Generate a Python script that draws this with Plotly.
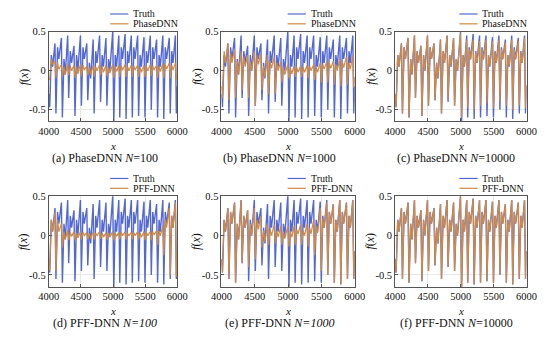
import plotly.graph_objects as go

# page body has an 8px default margin: the figure is drawn 8px in from the top-left
OFF = 8
W, H = 550 - OFF, 337 - OFF

# ---------------- data ----------------
x_vals = [4000, 4015, 4040, 4060, 4097, 4112, 4137, 4157, 4197, 4212,
          4237, 4257, 4295, 4310, 4335, 4355, 4393, 4408, 4433, 4453,
          4493, 4508, 4533, 4553, 4592, 4607, 4632, 4652, 4691, 4706,
          4731, 4751, 4791, 4806, 4831, 4851, 4890, 4905, 4930, 4950,
          4995, 5012, 5035, 5055, 5090, 5105, 5128, 5148, 5188, 5203,
          5226, 5246, 5285, 5300, 5323, 5343, 5383, 5398, 5421, 5441,
          5482, 5497, 5520, 5540, 5580, 5595, 5618, 5638, 5678, 5693,
          5716, 5736, 5775, 5790, 5813, 5833, 5875, 5890, 5913, 5933,
          5970, 5985, 6000]

truth = [-0.30, -0.47, 0.20, 0.05, 0.35, -0.55, 0.30, 0.15, 0.42, -0.60,
         0.15, -0.05, 0.45, -0.35, 0.25, 0.10, 0.32, -0.58, 0.20, 0.00,
         0.45, -0.45, 0.30, 0.15, 0.35, -0.38, 0.10, -0.10, 0.40, -0.55,
         0.25, 0.10, 0.45, -0.40, 0.20, 0.05, 0.42, -0.45, 0.15, 0.00,
         0.50, -0.66, 0.20, 0.05, 0.45, -0.60, 0.30, 0.15, 0.47, -0.62,
         0.25, 0.10, 0.45, -0.60, 0.30, 0.15, 0.45, -0.58, 0.20, 0.05,
         0.43, -0.60, 0.25, 0.10, 0.45, -0.50, 0.30, 0.15, 0.40, -0.60,
         0.20, 0.05, 0.45, -0.62, 0.30, 0.15, 0.42, -0.55, 0.25, 0.10,
         0.45, -0.55, -0.20]

phasednn_100 = [-0.10, -0.12, 0.15, 0.08, 0.12, -0.10, 0.10, 0.02, 0.08, -0.08,
                0.05, -0.05, 0.08, -0.06, 0.06, 0.00, 0.07, -0.09, 0.05, -0.04,
                0.08, -0.07, 0.07, 0.01, 0.06, -0.06, 0.04, -0.05, 0.07, -0.08,
                0.05, 0.00, 0.08, -0.06, 0.05, -0.02, 0.07, -0.07, 0.04, -0.03,
                0.08, -0.09, 0.05, -0.01, 0.07, -0.08, 0.06, 0.01, 0.08, -0.08,
                0.05, 0.00, 0.07, -0.08, 0.06, 0.01, 0.07, -0.08, 0.04, -0.02,
                0.07, -0.08, 0.05, 0.00, 0.08, -0.07, 0.06, 0.01, 0.07, -0.09,
                0.05, -0.01, 0.09, -0.10, 0.08, 0.02, 0.10, -0.10, 0.07, 0.01,
                0.10, -0.12, -0.05]

phasednn_1000 = [-0.20, -0.35, 0.25, 0.10, 0.35, -0.38, 0.22, 0.10, 0.28, -0.35,
                 0.12, -0.05, 0.25, -0.25, 0.18, 0.05, 0.20, -0.35, 0.12, 0.00,
                 0.25, -0.45, 0.20, 0.08, 0.22, -0.25, 0.06, -0.08, 0.20, -0.30,
                 0.12, 0.03, 0.18, -0.30, 0.10, 0.00, 0.12, -0.15, 0.05, -0.05,
                 0.08, -0.10, 0.03, -0.04, 0.06, -0.08, 0.05, -0.02, 0.06, -0.08,
                 0.04, -0.02, 0.07, -0.10, 0.06, 0.00, 0.08, -0.12, 0.05, -0.02,
                 0.10, -0.15, 0.08, 0.02, 0.12, -0.15, 0.10, 0.03, 0.12, -0.18,
                 0.08, 0.00, 0.15, -0.20, 0.12, 0.04, 0.18, -0.18, 0.10, 0.02,
                 0.20, -0.22, -0.08]

phasednn_10000 = [-0.30, -0.47, 0.20, 0.05, 0.35, -0.55, 0.30, 0.15, 0.42, -0.60,
                  0.15, -0.05, 0.45, -0.35, 0.25, 0.10, 0.32, -0.58, 0.20, 0.00,
                  0.45, -0.45, 0.30, 0.15, 0.35, -0.38, 0.10, -0.10, 0.40, -0.55,
                  0.25, 0.10, 0.45, -0.36, 0.20, 0.05, 0.42, -0.45, 0.15, 0.00,
                  0.48, -0.60, 0.20, 0.05, 0.40, -0.48, 0.28, 0.14, 0.40, -0.50,
                  0.24, 0.10, 0.38, -0.45, 0.28, 0.14, 0.40, -0.42, 0.20, 0.06,
                  0.38, -0.48, 0.24, 0.10, 0.40, -0.40, 0.28, 0.14, 0.36, -0.45,
                  0.20, 0.06, 0.40, -0.50, 0.28, 0.14, 0.38, -0.45, 0.24, 0.10,
                  0.42, -0.48, -0.18]

pffdnn_100 = [-0.30, -0.45, 0.20, 0.05, 0.30, -0.45, 0.20, 0.05, 0.15, -0.15,
              0.05, -0.05, 0.07, -0.06, 0.04, -0.01, 0.05, -0.06, 0.03, -0.03,
              0.05, -0.05, 0.04, 0.00, 0.04, -0.05, 0.03, -0.04, 0.05, -0.05,
              0.03, 0.00, 0.05, -0.04, 0.03, -0.02, 0.04, -0.05, 0.03, -0.02,
              0.05, -0.06, 0.03, -0.01, 0.04, -0.05, 0.04, 0.00, 0.05, -0.05,
              0.03, 0.00, 0.04, -0.05, 0.04, 0.00, 0.05, -0.05, 0.03, -0.02,
              0.05, -0.06, 0.04, 0.00, 0.05, -0.06, 0.05, 0.01, 0.06, -0.12,
              0.06, 0.00, 0.12, -0.25, 0.20, 0.10, 0.35, -0.50, 0.25, 0.10,
              0.42, -0.52, -0.20]

pffdnn_1000 = [-0.30, -0.47, 0.20, 0.05, 0.35, -0.55, 0.30, 0.15, 0.42, -0.60,
               0.15, -0.05, 0.45, -0.35, 0.25, 0.10, 0.32, -0.40, 0.15, 0.00,
               0.35, -0.30, 0.20, 0.08, 0.25, -0.15, 0.06, -0.08, 0.15, -0.12,
               0.08, 0.00, 0.14, -0.10, 0.06, -0.02, 0.12, -0.12, 0.05, -0.04,
               0.12, -0.14, 0.05, -0.02, 0.12, -0.12, 0.08, 0.02, 0.14, -0.12,
               0.06, 0.00, 0.15, -0.14, 0.10, 0.02, 0.20, -0.25, 0.12, 0.03,
               0.35, -0.45, 0.22, 0.10, 0.42, -0.50, 0.30, 0.15, 0.40, -0.60,
               0.20, 0.05, 0.45, -0.62, 0.30, 0.15, 0.42, -0.55, 0.25, 0.10,
               0.45, -0.55, -0.20]

pffdnn_10000 = [-0.30, -0.47, 0.20, 0.05, 0.35, -0.55, 0.30, 0.15, 0.42, -0.60,
                0.15, -0.05, 0.45, -0.35, 0.25, 0.10, 0.32, -0.58, 0.20, 0.00,
                0.45, -0.45, 0.30, 0.15, 0.35, -0.38, 0.10, -0.10, 0.40, -0.55,
                0.25, 0.10, 0.45, -0.40, 0.20, 0.05, 0.42, -0.45, 0.15, 0.00,
                0.50, -0.66, 0.20, 0.05, 0.45, -0.60, 0.30, 0.15, 0.47, -0.62,
                0.25, 0.10, 0.45, -0.60, 0.30, 0.15, 0.45, -0.58, 0.20, 0.05,
                0.43, -0.60, 0.25, 0.10, 0.45, -0.50, 0.30, 0.15, 0.40, -0.60,
                0.20, 0.05, 0.45, -0.62, 0.30, 0.15, 0.42, -0.55, 0.25, 0.10,
                0.45, -0.55, -0.20]

x_ticks = [4000, 4500, 5000, 5500, 6000]
y_ticks = [-0.5, 0, 0.5]
y_tick_labels = ["-0.5", "0", "0.5"]

panels = [
    ("(a) PhaseDNN <i>N</i>=100", "PhaseDNN", phasednn_100),
    ("(b) PhaseDNN <i>N</i>=1000", "PhaseDNN", phasednn_1000),
    ("(c) PhaseDNN <i>N</i>=10000", "PhaseDNN", phasednn_10000),
    ("(d) PFF-DNN <i>N=100</i>", "PFF-DNN", pffdnn_100),
    ("(e) PFF-DNN <i>N=1000</i>", "PFF-DNN", pffdnn_1000),
    ("(f) PFF-DNN <i>N</i>=10000", "PFF-DNN", pffdnn_10000),
]

# ---------------- layout geometry (page pixels) ----------------
col_lr = [(39, 173), (219, 358), (400, 537)]
row_tb = [(27, 118), (194, 286)]
cap_cx = [98, 280, 464]

TRUTH_C = "#5468d4"
PRED_C = "#cf8a45"
FONT = "Liberation Serif, Times New Roman, serif"


def px(x):
    return (x - OFF) / W


def py(y):
    return 1 - (y - OFF) / H


fig = go.Figure()
annotations = []
shapes = []

for i, (cap, pname, pred) in enumerate(panels):
    r, c = divmod(i, 3)
    k = i + 1
    xa = "x" if k == 1 else f"x{k}"
    ya = "y" if k == 1 else f"y{k}"
    L, R = col_lr[c]
    T, B = row_tb[r]

    fig.add_trace(go.Scatter(x=x_vals, y=truth, mode="lines",
                             line=dict(color=TRUTH_C, width=1.4),
                             xaxis=xa, yaxis=ya, showlegend=False, name="Truth"))
    fig.add_trace(go.Scatter(x=x_vals, y=pred, mode="lines",
                             line=dict(color=PRED_C, width=1.2),
                             xaxis=xa, yaxis=ya, showlegend=False, name=pname))

    axis_common = dict(showline=True, linecolor="#555555", linewidth=0.8,
                       mirror=True, ticks="inside", ticklen=3, tickcolor="#555555",
                       showgrid=True, gridcolor="#e8e8e8", gridwidth=0.6,
                       zeroline=False,
                       tickfont=dict(family=FONT, size=10.5, color="#111111"))
    xkey = "xaxis" if k == 1 else f"xaxis{k}"
    ykey = "yaxis" if k == 1 else f"yaxis{k}"
    fig.update_layout({
        xkey: dict(axis_common, domain=[px(L), px(R)], range=[4000, 6000],
                   tickvals=x_ticks, anchor=ya),
        ykey: dict(axis_common, domain=[py(B), py(T)], range=[-0.65, 0.5],
                   tickvals=y_ticks, ticktext=y_tick_labels, anchor=xa),
    })

    # axis titles
    annotations.append(dict(text="<i>x</i>", x=px((L + R) / 2), y=py(B + 25),
                            xref="paper", yref="paper", showarrow=False,
                            font=dict(family=FONT, size=11, color="#111111"),
                            xanchor="center", yanchor="middle"))
    annotations.append(dict(text="<i>f</i>(<i>x</i>)", x=px(L - 26), y=py((T + B) / 2),
                            xref="paper", yref="paper", showarrow=False, textangle=-90,
                            font=dict(family=FONT, size=12, color="#111111"),
                            xanchor="center", yanchor="middle"))
    # caption
    annotations.append(dict(text=cap, x=px(cap_cx[c]), y=py(B + 37),
                            xref="paper", yref="paper", showarrow=False,
                            font=dict(family=FONT, size=12, color="#111111"),
                            xanchor="center", yanchor="middle"))
    # legend (manual, compact)
    for j, (lab, col) in enumerate([("Truth", TRUTH_C), (pname, PRED_C)]):
        yy = T - 18 + 10 * j
        shapes.append(dict(type="line", xref="paper", yref="paper",
                           x0=px(R - 70), x1=px(R - 51), y0=py(yy), y1=py(yy),
                           line=dict(color=col, width=1.2)))
        annotations.append(dict(text=lab, x=px(R - 48), y=py(yy),
                                xref="paper", yref="paper", showarrow=False,
                                font=dict(family=FONT, size=10, color="#111111"),
                                xanchor="left", yanchor="middle"))

fig.update_layout(width=W, height=H, margin=dict(l=0, r=0, t=0, b=0),
                  paper_bgcolor="white", plot_bgcolor="white",
                  annotations=annotations, shapes=shapes, showlegend=False)

fig.write_html("out.html")
